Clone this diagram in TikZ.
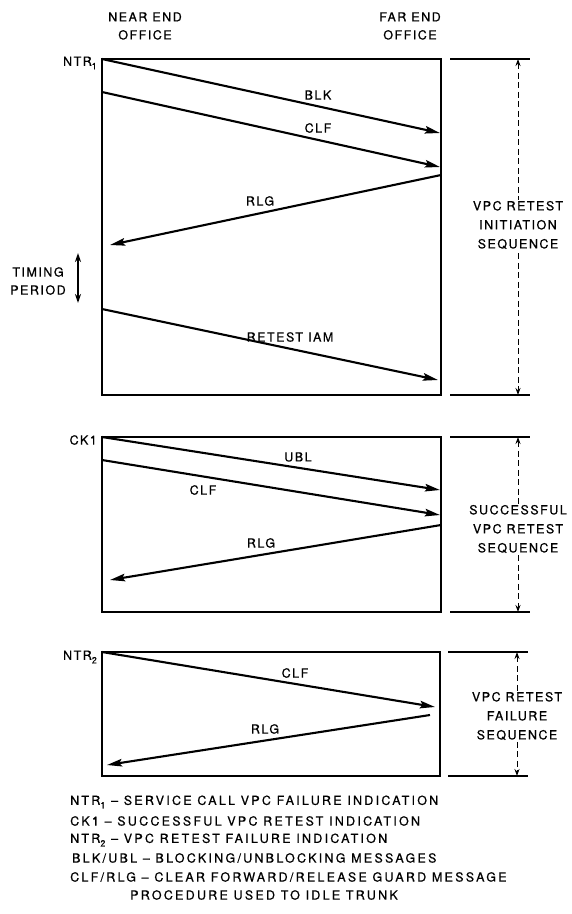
\documentclass[tikz,border=0pt]{standalone}
\usepackage{fontspec}
\setmainfont{TeX Gyre Heros}
\newfontfamily\labfont[LetterSpace=12,FakeBold=0.6]{TeX Gyre Heros}
\newfontfamily\legfont[LetterSpace=18,FakeBold=0.6]{TeX Gyre Heros}
\usetikzlibrary{arrows.meta}
\newcommand\subdig[1]{\raisebox{-0.55ex}{\fontsize{9}{9}\selectfont #1}}
\begin{document}
\begin{tikzpicture}[x=1pt,y=-1pt,
  frame/.style={line width=1.6pt},
  msg/.style={line width=2.1pt,-{Stealth[length=15pt,width=7.5pt,inset=2.5pt]}},
  lbl/.style={font=\labfont\fontsize{12.5}{14}\selectfont, inner sep=0pt},
  side/.style={font=\labfont\fontsize{12.5}{19}\selectfont, align=center, fill=white, inner sep=1pt},
  leg/.style={font=\legfont\fontsize{12.5}{14}\selectfont, inner sep=0pt, anchor=west},
  ext/.style={line width=1.4pt},
  dim/.style={line width=1pt, dash pattern=on 6pt off 3.5pt,
     {Stealth[length=7pt,width=5pt]}-{Stealth[length=7pt,width=5pt]}},
  timing/.style={line width=1.6pt,
     {Stealth[length=9pt,width=6pt]}-{Stealth[length=9pt,width=6pt]}}
]
\useasboundingbox (0,0) rectangle (571,914);

% headers
\node[lbl, align=center, font=\labfont\fontsize{12.5}{18}\selectfont] (near) at (145,26) {NEAR END\\OFFICE};
\node[lbl, align=center, font=\labfont\fontsize{12.5}{18}\selectfont] (far) at (410,26) {FAR END\\OFFICE};

% ---------- box 1 ----------
\draw[frame] (102,59) rectangle (441,395);
\node[lbl, anchor=east] (ntr1) at (97,63) {NTR\subdig{1}};
\coordinate (a1s) at (102,59);  \coordinate (a1e) at (440,133);
\coordinate (a2s) at (102,92);  \coordinate (a2e) at (440,167);
\coordinate (a3s) at (441,175); \coordinate (a3e) at (110,245);
\coordinate (a4s) at (102,309); \coordinate (a4e) at (438,380);
\draw[msg] (a1s) -- (a1e);
\draw[msg] (a2s) -- (a2e);
\draw[msg] (a3s) -- (a3e);
\draw[msg] (a4s) -- (a4e);
\node[lbl] (blk) at (318,95) {BLK};
\node[lbl] (clf1) at (318,128) {CLF};
\node[lbl] (rlg1) at (260,201) {RLG};
\node[lbl] (iam) at (290,337) {RETEST IAM};

\node[lbl, align=center, font=\labfont\fontsize{12.5}{18}\selectfont] (tp) at (38,281) {TIMING\\PERIOD};
\coordinate (t1) at (78,253); \coordinate (t2) at (78,303);
\draw[timing] (t1) -- (t2);

\coordinate (e1t) at (450,59); \coordinate (e1tr) at (530,59);
\coordinate (e1b) at (450,395); \coordinate (e1br) at (530,395);
\draw[ext] (e1t) -- (e1tr);
\draw[ext] (e1b) -- (e1br);
\coordinate (d1t) at (518,59); \coordinate (d1b) at (518,395);
\draw[dim] (d1t) -- (d1b);
\node[side] (s1) at (518,225) {VPC RETEST\\INITIATION\\SEQUENCE};

% ---------- box 2 ----------
\draw[frame] (102,437) rectangle (441,612);
\node[lbl, anchor=east] (ck1) at (97,440) {CK1};
\coordinate (b1s) at (102,437); \coordinate (b1e) at (440,490);
\coordinate (b2s) at (102,460); \coordinate (b2e) at (440,515);
\coordinate (b3s) at (441,525); \coordinate (b3e) at (110,580);
\draw[msg] (b1s) -- (b1e);
\draw[msg] (b2s) -- (b2e);
\draw[msg] (b3s) -- (b3e);
\node[lbl] (ubl) at (298,457) {UBL};
\node[lbl] (clf2) at (203,490) {CLF};
\node[lbl] (rlg2) at (261,543) {RLG};

\coordinate (e2t) at (450,437); \coordinate (e2tr) at (530,437);
\coordinate (e2b) at (450,612); \coordinate (e2br) at (530,612);
\draw[ext] (e2t) -- (e2tr);
\draw[ext] (e2b) -- (e2br);
\coordinate (d2t) at (518,437); \coordinate (d2b) at (518,612);
\draw[dim] (d2t) -- (d2b);
\node[side] (s2) at (518,529) {SUCCESSFUL\\VPC RETEST\\SEQUENCE};

% ---------- box 3 ----------
\draw[frame] (102,652) rectangle (440,776);
\node[lbl, anchor=east] (ntr2) at (97,657) {NTR\subdig{2}};
\coordinate (c1s) at (102,652); \coordinate (c1e) at (435,707);
\coordinate (c2s) at (430,715); \coordinate (c2e) at (107,765);
\draw[msg] (c1s) -- (c1e);
\draw[msg] (c2s) -- (c2e);
\node[lbl] (clf3) at (295,673) {CLF};
\node[lbl] (rlg3) at (265,729) {RLG};

\coordinate (e3t) at (448,652); \coordinate (e3tr) at (528,652);
\coordinate (e3b) at (448,776); \coordinate (e3br) at (528,776);
\draw[ext] (e3t) -- (e3tr);
\draw[ext] (e3b) -- (e3br);
\coordinate (d3t) at (517,652); \coordinate (d3b) at (517,776);
\draw[dim] (d3t) -- (d3b);
\node[side] (s3) at (517,716) {VPC RETEST\\FAILURE\\SEQUENCE};

% ---------- legend ----------
\node[leg] (l1) at (70,802) {NTR\subdig{1} – SERVICE CALL VPC FAILURE INDICATION};
\node[leg] (l2) at (70,821) {CK1 – SUCCESSFUL VPC RETEST INDICATION};
\node[leg] (l3) at (70,840) {NTR\subdig{2} – VPC RETEST FAILURE INDICATION};
\node[leg] (l4) at (72,858) {BLK/UBL – BLOCKING/UNBLOCKING MESSAGES};
\node[leg] (l5) at (70,877) {CLF/RLG – CLEAR FORWARD/RELEASE GUARD MESSAGE};
\node[leg] (l6) at (130,895) {PROCEDURE USED TO IDLE TRUNK};
\end{tikzpicture}
\end{document}
